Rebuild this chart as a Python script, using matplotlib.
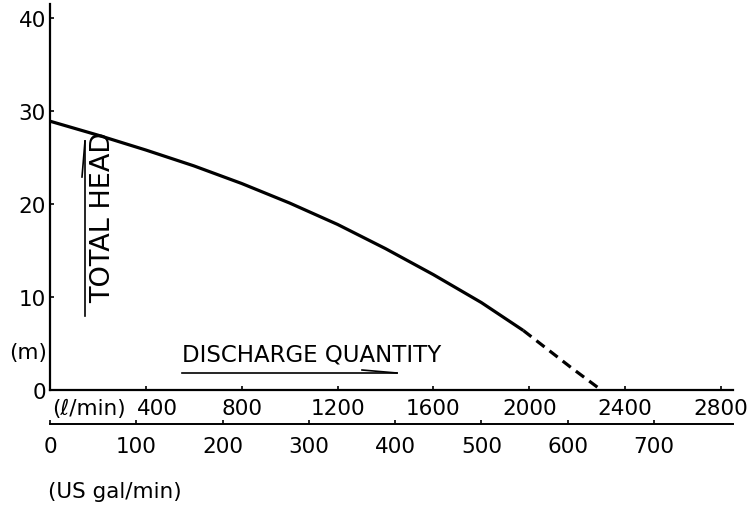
import matplotlib.pyplot as plt
import matplotlib.transforms as mtransforms
from matplotlib.lines import Line2D

W, H = 754, 506
fontsize = 15.5
plt.rcParams['font.family'] = ['DejaVu Sans']
plt.rcParams['font.size'] = fontsize

# pump curve: flow in l/min, head in m
flow_solid = [0, 200, 400, 600, 800, 1000, 1200, 1400, 1600, 1800, 1975]
head_solid = [28.9, 27.4, 25.8, 24.1, 22.2, 20.1, 17.8, 15.2, 12.4, 9.4, 6.4]
flow_dash = [1975, 2170, 2300]
head_dash = [6.4, 2.5, 0.0]

lmin_ticks = [400, 800, 1200, 1600, 2000, 2400, 2800]
gal_ticks = [0, 100, 200, 300, 400, 500, 600, 700]
head_ticks = [0, 10, 20, 30, 40]
L_PER_GAL = 3.6  # spacing of the gal scale as drawn


def px(x, y):
    # figure pixel coords (top-left origin) -> figure fraction
    return x / W, 1 - y / H


fig = plt.figure(figsize=(W / 100, H / 100), dpi=100)
ax = fig.add_axes([50 / W, (H - 391) / H, 683 / W, 386 / H])

ax.plot(flow_solid, head_solid, color='black', lw=2.3, solid_capstyle='butt')
ax.plot(flow_dash, head_dash, color='black', lw=2.3, linestyle=(0, (3.2, 2.0)))

ax.set_xlim(0, 2850)
ax.set_ylim(0, 41.5)
for s in ['top', 'right']:
    ax.spines[s].set_visible(False)
for s in ['left', 'bottom']:
    ax.spines[s].set_linewidth(1.6)

ax.set_xticks(lmin_ticks)
ax.set_yticks(head_ticks)
ax.tick_params(axis='x', direction='in', length=3, width=1.2, pad=6)
ax.tick_params(axis='y', direction='in', length=3, width=1.2, pad=3)

# first l/min label sits a bit right of its tick, clear of the unit
lab = ax.get_xticklabels()[0]
lab.set_transform(lab.get_transform() +
                  mtransforms.ScaledTranslation(12 / 100, 0, fig.dpi_scale_trans))

sec = ax.secondary_xaxis(-34 / 386, functions=(lambda l: l / L_PER_GAL,
                                               lambda g: g * L_PER_GAL))
sec.set_xticks(gal_ticks)
sec.spines['bottom'].set_linewidth(1.4)
sec.tick_params(axis='x', direction='in', length=3, width=1.2, pad=9)

# unit labels
fig.text(*px(52, 409), '(\u2113/min)', ha='left', va='center')
fig.text(*px(48, 492), '(US gal/min)', ha='left', va='center')
fig.text(*px(47, 353), '(m)', ha='right', va='center')

# axis captions with half arrows
fig.text(*px(182, 355), 'DISCHARGE QUANTITY', ha='left', va='center', fontsize=16.5)
fig.text(*px(103, 217), 'TOTAL HEAD', ha='center', va='center', rotation=90, fontsize=19.5)

arrow_lw = 1.2
for (x0, y0), (x1, y1) in [((182, 374), (397, 374)), ((397, 374), (362, 371)),
                           ((85, 317), (85, 142)), ((85, 142), (82, 178))]:
    a, b = px(x0, y0)
    c, d = px(x1, y1)
    fig.add_artist(Line2D([a, c], [b, d], color='black', lw=arrow_lw,
                          transform=fig.transFigure))

fig.savefig('out.png', dpi=100)
